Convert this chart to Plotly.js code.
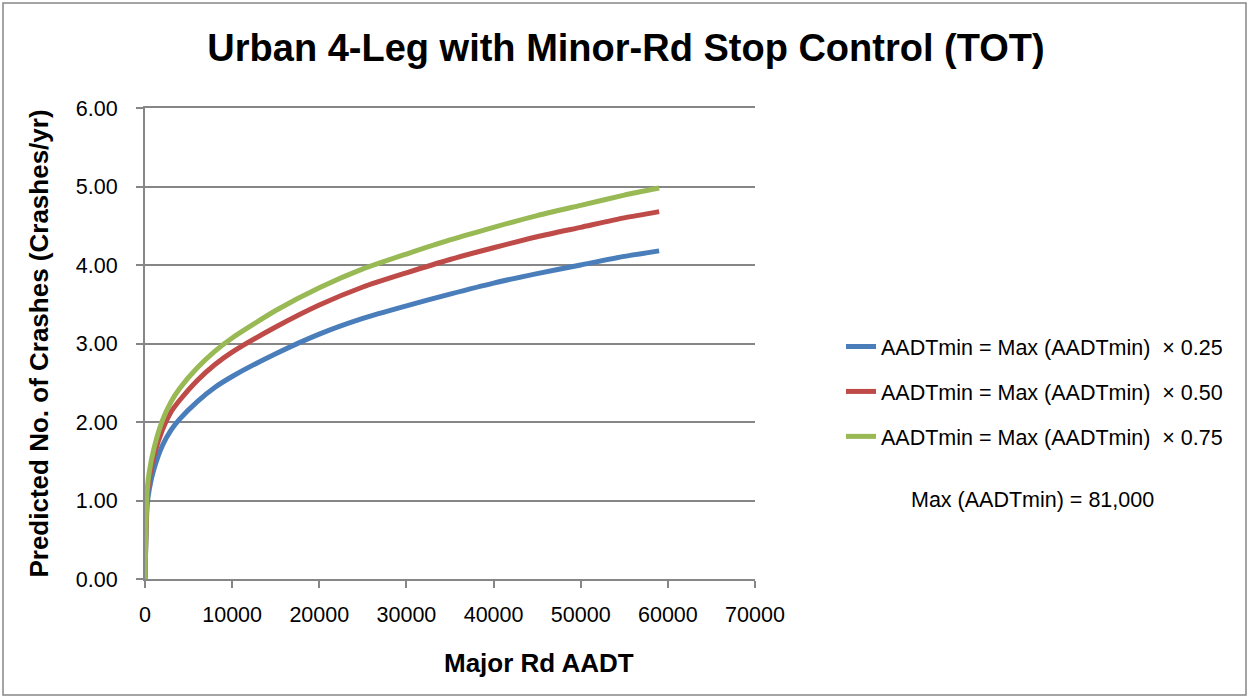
<!DOCTYPE html>
<html><head><meta charset="utf-8">
<script src="https://cdn.plot.ly/plotly-3.0.1.min.js"></script>
<style>html,body{margin:0;padding:0;background:#fff}#chart{width:1249px;height:698px}</style>
</head><body><div id="chart"></div>
<script>
const majorAADT = [0, 250, 500, 1000, 2000, 3000, 4000, 6000, 8000, 10000, 15000, 20000, 25000, 30000, 35000, 40000, 45000, 50000, 55000, 59000];
const crashes025 = [0, 0.95, 1.15, 1.39, 1.70, 1.90, 2.04, 2.26, 2.44, 2.58, 2.87, 3.12, 3.32, 3.48, 3.63, 3.77, 3.89, 4.00, 4.11, 4.18];
const crashes050 = [0, 1.06, 1.29, 1.56, 1.90, 2.13, 2.28, 2.53, 2.73, 2.89, 3.21, 3.49, 3.72, 3.90, 4.07, 4.22, 4.36, 4.48, 4.60, 4.68];
const crashes075 = [0, 1.13, 1.37, 1.65, 2.02, 2.26, 2.43, 2.69, 2.90, 3.07, 3.42, 3.71, 3.95, 4.14, 4.32, 4.48, 4.63, 4.76, 4.89, 4.98];
const seriesNames = ["AADTmin = Max (AADTmin)  × 0.25", "AADTmin = Max (AADTmin)  × 0.50", "AADTmin = Max (AADTmin)  × 0.75"];
const seriesColors = ["#4A7EBB", "#BE4B48", "#98B954"];
const yTicks = [0, 1, 2, 3, 4, 5, 6];
const yTickText = ["0.00", "1.00", "2.00", "3.00", "4.00", "5.00", "6.00"];
const xTicks = [0, 10000, 20000, 30000, 40000, 50000, 60000, 70000];

const FONT = "Liberation Sans, Arial, sans-serif";
const GRID = "#868686";
const ys = [crashes025, crashes050, crashes075];
const traces = ys.map((y, i) => ({
  x: majorAADT, y: y, type: "scatter", mode: "lines",
  name: seriesNames[i].replace(/  /g, "\u00a0\u00a0"),
  legendgroup: "g" + i,
  line: {color: seriesColors[i], width: 5, shape: "spline", smoothing: 0.6}
}));

const layout = {
  width: 1249, height: 698,
  margin: {l: 145, r: 494, t: 108, b: 119},
  paper_bgcolor: "#fff", plot_bgcolor: "#fff",
  font: {family: FONT, size: 21, color: "#000"},
  title: {text: "<b>Urban 4-Leg with Minor-Rd Stop Control (TOT)</b>", font: {family: FONT, size: 38, color: "#000"},
          x: 626 / 1249, xref: "container", xanchor: "center", y: 0.932, yanchor: "middle"},
  xaxis: {range: [0, 70000], tickvals: xTicks, ticktext: xTicks.map(String),
          showgrid: false, zeroline: false, showline: true, mirror: true, linecolor: GRID, linewidth: 2,
          ticks: "outside", ticklen: 7, tickwidth: 2, tickcolor: GRID, tickfont: {family: FONT, size: 21.5},
          ticklabelstandoff: 8},
  yaxis: {range: [0, 6], tickvals: yTicks, ticktext: yTickText,
          showgrid: true, gridcolor: GRID, gridwidth: 2, zeroline: false,
          showline: true, linecolor: GRID, linewidth: 2,
          ticks: "outside", ticklen: 7, tickwidth: 2, tickcolor: GRID, tickfont: {family: FONT, size: 21.5},
          ticklabelstandoff: 14,
          title: {text: "<b>Predicted No. of Crashes (Crashes/yr)</b>", font: {family: FONT, size: 26}, standoff: 20}},
  legend: {x: (841 - 145) / 610, xanchor: "left", y: (579 - 326) / 471, yanchor: "top", tracegroupgap: 14,
           font: {family: FONT, size: 21.5}, bgcolor: "rgba(0,0,0,0)", itemwidth: 30},
  annotations: [
    {text: "<b>Major Rd AADT</b>", xref: "paper", yref: "paper",
     x: (539 - 145) / 610, y: (579 - 663) / 471, xanchor: "center", yanchor: "middle",
     showarrow: false, font: {family: FONT, size: 26}},
    {text: "Max (AADTmin) = 81,000", xref: "paper", yref: "paper",
     x: (1032 - 145) / 610, y: (579 - 500) / 471, xanchor: "center", yanchor: "middle",
     showarrow: false, font: {family: FONT, size: 21.5}}],
  shapes: [{type: "rect", xref: "paper", yref: "paper",
            x0: (3 - 145) / 610, x1: (1246 - 145) / 610, y0: (579 - 695) / 471, y1: (579 - 3) / 471,
            line: {color: GRID, width: 1.5}, fillcolor: "rgba(0,0,0,0)", layer: "below"}]
};
Plotly.newPlot("chart", traces, layout, {displayModeBar: false, staticPlot: true});
</script></body></html>
